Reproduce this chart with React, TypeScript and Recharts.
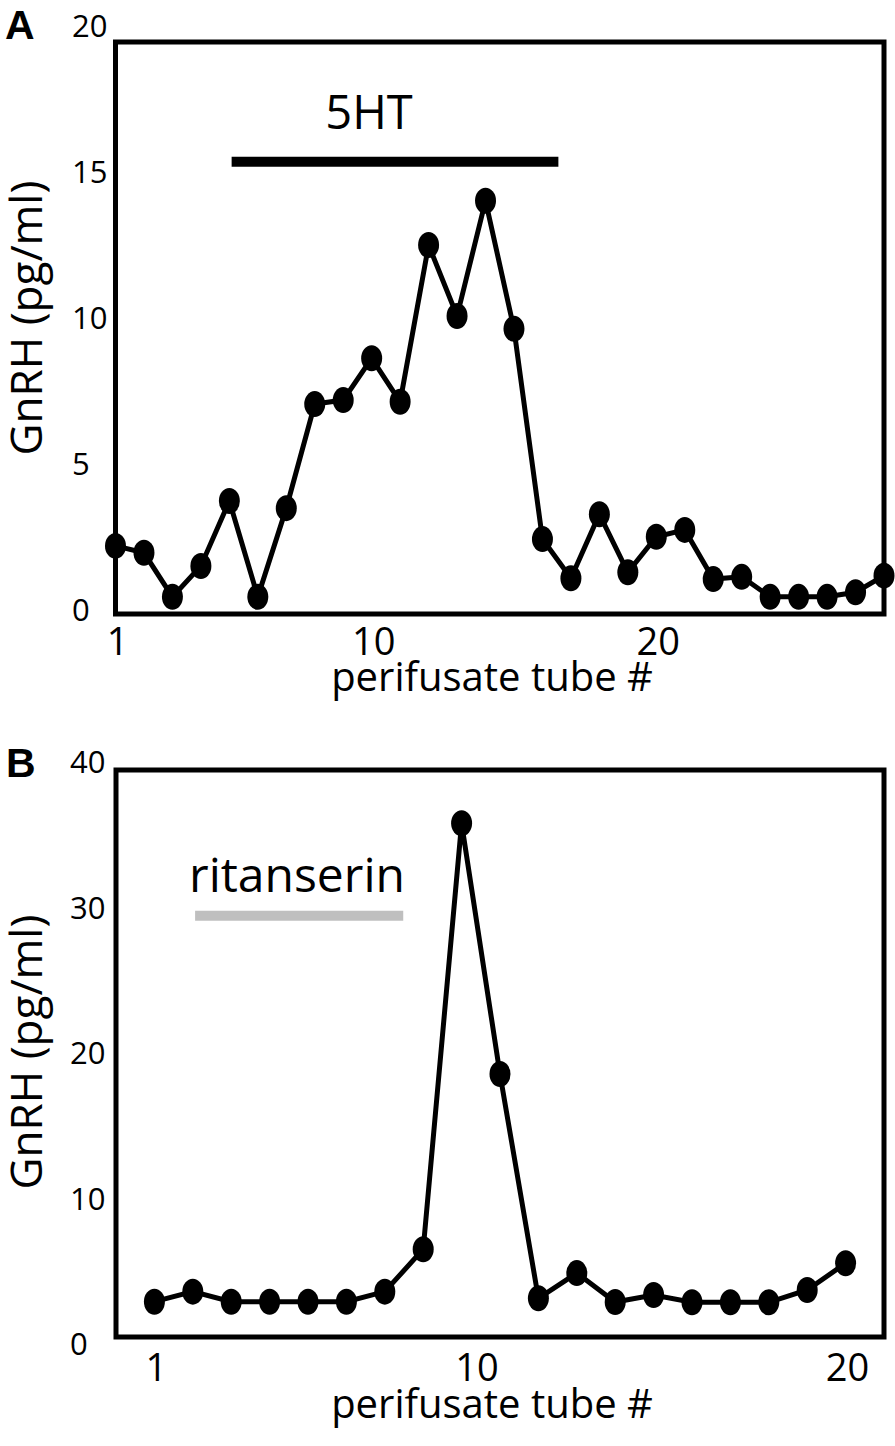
import React from 'react';
import { LineChart, Line, XAxis, YAxis, ReferenceArea, ReferenceLine } from 'recharts';

// ---- Panel A data (5HT) ----
const tubesA = [1, 2, 3, 4, 5, 6, 7, 8, 9, 10, 11, 12, 13, 14, 15, 16, 17, 18, 19, 20, 21, 22, 23, 24, 25, 26, 27, 28];
const gnrhA = [2.38, 2.14, 0.6, 1.68, 3.95, 0.6, 3.7, 7.34, 7.48, 8.94, 7.42, 12.9, 10.42, 14.45, 9.97, 2.62, 1.25, 3.49, 1.46, 2.7, 2.94, 1.22, 1.3, 0.6, 0.6, 0.6, 0.76, 1.34];
const xTicksA = [1, 10, 20];
const xTickLabelsA = ['1', '10', '20'];
const yTicksA = [0, 5, 10, 15, 20];
const treatmentA = { label: '5HT', start: 5.08, end: 16.56, level: 15.81 };

// ---- Panel B data (ritanserin) ----
const tubesB = [1, 2, 3, 4, 5, 6, 7, 8, 9, 10, 11, 12, 13, 14, 15, 16, 17, 18, 19];
const gnrhB = [2.49, 3.2, 2.49, 2.49, 2.49, 2.49, 3.2, 6.19, 36.24, 18.55, 2.73, 4.51, 2.47, 2.96, 2.45, 2.45, 2.45, 3.32, 5.2];
const xTicksB = [1, 9.35, 19];
const xTickLabelsB = ['1', '10', '20'];
const yTicksB = [0, 10, 20, 30, 40];
const treatmentB = { label: 'ritanserin', start: 2.06, end: 7.48, level: 29.72 };

const dataA = tubesA.map((t, i) => ({ tube: t, v: gnrhA[i] }));
const dataB = tubesB.map((t, i) => ({ tube: t, v: gnrhB[i] }));

const FONT = '"Open Sans", Lato, sans-serif';

const Dot = (p: any) => (
  <ellipse key={`d${p.index}`} cx={p.cx} cy={p.cy} rx={10.5} ry={13} fill="#000" />
);

function makeYTick(x: number, offA: number, offB: number) {
  return (props: any) => {
    const v = props.payload.value;
    return (
      <text x={x} y={props.y + offA + offB * v + 11} textAnchor="start" fontFamily={FONT} fontSize={31} fill="#000">
        {String(v)}
      </text>
    );
  };
}

function makeXTick(labels: string[], baseline: number, dx: number) {
  return (props: any) => (
    <text x={props.x + dx} y={baseline} textAnchor="middle" fontFamily={FONT} fontSize={38} fill="#000">
      {labels[props.index]}
    </text>
  );
}

export default function App() {
  return (
    <div style={{ position: 'absolute', left: 0, top: 0, width: 895, height: 1446, background: '#fff' }}>
      <div style={{ position: 'absolute', left: 0, top: 0 }}>
        <LineChart width={895} height={730} data={dataA} margin={{ top: 42, right: 11, left: 0, bottom: 0 }}>
          <XAxis
            dataKey="tube"
            type="number"
            domain={[1, 28]}
            ticks={xTicksA}
            axisLine={false}
            tickLine={false}
            height={116}
            tick={makeXTick(xTickLabelsA, 655, 2)}
          />
          <YAxis
            type="number"
            domain={[0, 20]}
            ticks={yTicksA}
            axisLine={false}
            tickLine={false}
            width={115.5}
            tick={makeYTick(72, -4, -0.6)}
          />
          <ReferenceArea x1={1} x2={28} y1={0} y2={20} fill="none" fillOpacity={0} stroke="#000" strokeWidth={5} />
          <ReferenceLine
            segment={[{ x: treatmentA.start, y: treatmentA.level }, { x: treatmentA.end, y: treatmentA.level }]}
            stroke="#000"
            strokeWidth={10}
          />
          <Line dataKey="v" type="linear" stroke="#000" strokeWidth={5} dot={Dot} activeDot={false} isAnimationActive={false} />
          <text x={5} y={38.5} fontFamily="'Liberation Sans', Arial, sans-serif" fontWeight="bold" fontSize={41} fill="#000">A</text>
          <text x={369} y={129} textAnchor="middle" fontFamily={FONT} fontSize={47} fill="#000">{treatmentA.label}</text>
          <text x={492} y={691} textAnchor="middle" fontFamily={FONT} fontSize={40} fill="#000">perifusate tube #</text>
          <text transform="translate(42, 318) rotate(-90)" x={0} y={0} textAnchor="middle" fontFamily={FONT} fontSize={44} fill="#000">GnRH (pg/ml)</text>
        </LineChart>
      </div>
      <div style={{ position: 'absolute', left: 0, top: 728 }}>
        <LineChart width={895} height={718} data={dataB} margin={{ top: 42, right: 11, left: 0, bottom: 0 }}>
          <XAxis
            dataKey="tube"
            type="number"
            domain={[0, 20]}
            ticks={xTicksB}
            axisLine={false}
            tickLine={false}
            height={109}
            tick={makeXTick(xTickLabelsB, 653, 2)}
          />
          <YAxis
            type="number"
            domain={[0, 40]}
            ticks={yTicksB}
            axisLine={false}
            tickLine={false}
            width={116}
            tick={makeYTick(70, 7, -0.375)}
          />
          <ReferenceArea x1={0} x2={20} y1={0} y2={40} fill="none" fillOpacity={0} stroke="#000" strokeWidth={5} />
          <ReferenceLine
            segment={[{ x: treatmentB.start, y: treatmentB.level }, { x: treatmentB.end, y: treatmentB.level }]}
            stroke="#bfbfbf"
            strokeWidth={10}
          />
          <Line dataKey="v" type="linear" stroke="#000" strokeWidth={5} dot={Dot} activeDot={false} isAnimationActive={false} />
          <text x={6} y={49} fontFamily="'Liberation Sans', Arial, sans-serif" fontWeight="bold" fontSize={41} fill="#000">B</text>
          <text x={297} y={164} textAnchor="middle" fontFamily={FONT} fontSize={48} fill="#000">{treatmentB.label}</text>
          <text x={492} y={690} textAnchor="middle" fontFamily={FONT} fontSize={40} fill="#000">perifusate tube #</text>
          <text transform="translate(42, 324) rotate(-90)" x={0} y={0} textAnchor="middle" fontFamily={FONT} fontSize={44} fill="#000">GnRH (pg/ml)</text>
        </LineChart>
      </div>
    </div>
  );
}
